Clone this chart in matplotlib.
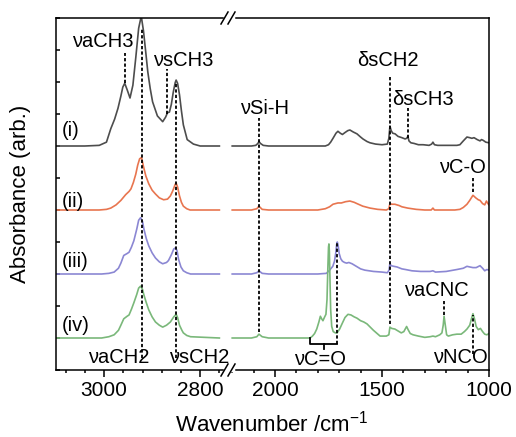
import matplotlib
matplotlib.use('Agg')
import matplotlib.pyplot as plt
from matplotlib.ticker import MultipleLocator, NullLocator
from matplotlib.lines import Line2D

plt.rcParams['font.family'] = ['Liberation Sans', 'DejaVu Sans']
plt.rcParams['mathtext.default'] = 'regular'

# C-H stretch region (3100-2750 cm-1), absorbance above each trace's baseline
hi_wn_i = [3100, 3040, 3010, 2995, 2986, 2978, 2971, 2965, 2961, 2957,
           2952, 2946, 2940, 2934, 2928, 2924, 2922, 2918, 2913, 2909,
           2904, 2899, 2889, 2878, 2872, 2868, 2864, 2860, 2856, 2852,
           2850, 2847, 2843, 2839, 2835, 2827, 2814, 2800, 2760]
hi_ab_i = [0, 0, 0.01, 0.06, 0.27, 0.42, 0.59, 0.78, 0.92, 0.98,
           0.88, 0.75, 0.95, 1.38, 1.84, 1.98, 2.0, 1.80, 1.45, 1.16,
           0.90, 0.69, 0.47, 0.38, 0.45, 0.52, 0.53, 0.65, 0.84, 0.99,
           1.03, 0.98, 0.80, 0.55, 0.33, 0.10, 0.03, 0.0, 0.0]

hi_wn_ii = [3100, 3010, 2995, 2986, 2975, 2965, 2955, 2948, 2944, 2939,
            2934, 2930, 2926, 2922, 2918, 2913, 2907, 2900, 2893, 2885,
            2876, 2868, 2862, 2857, 2852, 2850, 2847, 2843, 2839, 2835,
            2828, 2821, 2800, 2760]
hi_ab_ii = [0, 0, 0.01, 0.03, 0.08, 0.15, 0.24, 0.29, 0.33, 0.43,
            0.56, 0.70, 0.80, 0.82, 0.68, 0.53, 0.41, 0.31, 0.25, 0.19,
            0.16, 0.17, 0.22, 0.30, 0.40, 0.42, 0.36, 0.22, 0.12, 0.06,
            0.02, 0.0, 0.0, 0.0]

hi_wn_iii = [3100, 3005, 2990, 2979, 2970, 2965, 2959, 2952, 2948, 2943,
             2938, 2932, 2928, 2924, 2920, 2917, 2912, 2907, 2900, 2893,
             2885, 2878, 2870, 2866, 2860, 2855, 2851, 2848, 2845, 2840,
             2835, 2828, 2820, 2760]
hi_ab_iii = [0, 0, 0.01, 0.03, 0.09, 0.17, 0.29, 0.32, 0.34, 0.42,
             0.52, 0.70, 0.84, 0.88, 0.82, 0.70, 0.55, 0.44, 0.33, 0.25,
             0.19, 0.16, 0.18, 0.21, 0.30, 0.39, 0.41, 0.36, 0.23, 0.11,
             0.05, 0.02, 0.0, 0.0]

hi_wn_iv = [3100, 3005, 2990, 2979, 2970, 2965, 2959, 2952, 2948, 2943,
            2938, 2932, 2928, 2924, 2920, 2917, 2912, 2907, 2900, 2893,
            2885, 2878, 2870, 2862, 2855, 2850, 2847, 2843, 2838, 2835,
            2828, 2820, 2760]
hi_ab_iv = [0, 0, 0.02, 0.05, 0.12, 0.20, 0.30, 0.34, 0.36, 0.45,
            0.55, 0.68, 0.78, 0.81, 0.76, 0.67, 0.55, 0.44, 0.33, 0.25,
            0.20, 0.17, 0.20, 0.25, 0.33, 0.37, 0.32, 0.20, 0.12, 0.08,
            0.04, 0.02, 0.0]

# fingerprint region (2200-1000 cm-1)
lo_wn_i = [2200, 2110, 2090, 2080, 2075, 2068, 2055, 2030, 1800, 1765,
           1750, 1740, 1729, 1715, 1706, 1695, 1685, 1673, 1660, 1650,
           1635, 1617, 1600, 1589, 1570, 1556, 1530, 1500, 1475, 1468,
           1463, 1457, 1450, 1439, 1425, 1407, 1392, 1385, 1379, 1374,
           1365, 1350, 1330, 1308, 1280, 1268, 1262, 1255, 1240, 1200,
           1150, 1136, 1120, 1103, 1090, 1080, 1070, 1055, 1042, 1035,
           1028, 1015, 1000]
lo_ab_i = [0, 0, 0.01, 0.04, 0.07, 0.04, 0.01, 0, 0, 0,
           0.02, 0.06, 0.12, 0.20, 0.23, 0.20, 0.18, 0.21, 0.24, 0.25,
           0.22, 0.19, 0.14, 0.11, 0.07, 0.05, 0.03, 0.02, 0.03, 0.12,
           0.31, 0.24, 0.20, 0.19, 0.15, 0.13, 0.11, 0.12, 0.15, 0.08,
           0.05, 0.04, 0.02, 0.02, 0.01, 0.03, 0.06, 0.02, 0.01, 0.01,
           0.01, 0.02, 0.08, 0.14, 0.13, 0.12, 0.13, 0.10, 0.08, 0.10,
           0.09, 0.06, 0.05]

lo_wn_ii = [2200, 2110, 2085, 2075, 2060, 2030, 1800, 1765, 1745, 1729,
            1706, 1690, 1670, 1650, 1630, 1617, 1590, 1556, 1520, 1480,
            1468, 1463, 1455, 1440, 1420, 1407, 1380, 1340, 1300, 1270,
            1262, 1255, 1220, 1160, 1136, 1120, 1103, 1090, 1075, 1062,
            1050, 1042, 1030, 1020, 1012, 1005, 1000]
lo_ab_ii = [0, 0, 0.02, 0.06, 0.01, 0, 0, 0.02, 0.05, 0.09,
            0.11, 0.11, 0.13, 0.14, 0.12, 0.10, 0.06, 0.03, 0.01, 0.0,
            0.02, 0.10, 0.09, 0.09, 0.07, 0.05, 0.03, 0.01, 0.0, 0.0,
            0.03, 0.0, 0.0, 0.0, 0.01, 0.04, 0.09, 0.15, 0.23, 0.19,
            0.16, 0.15, 0.10, 0.08, 0.14, 0.10, 0.08]

lo_wn_iii = [2200, 2110, 2085, 2075, 2060, 2030, 1800, 1760, 1745, 1730,
             1722, 1716, 1712, 1709, 1705, 1700, 1693, 1685, 1675, 1665,
             1655, 1640, 1620, 1600, 1580, 1540, 1500, 1475, 1467, 1463,
             1458, 1445, 1430, 1407, 1390, 1360, 1320, 1275, 1262, 1250,
             1200, 1150, 1120, 1103, 1090, 1075, 1060, 1042, 1030, 1020,
             1010, 1000]
lo_ab_iii = [0, 0, 0.02, 0.05, 0.01, 0, 0, 0.01, 0.06, 0.12,
             0.20, 0.33, 0.46, 0.50, 0.45, 0.32, 0.24, 0.20, 0.18, 0.17,
             0.18, 0.16, 0.12, 0.08, 0.06, 0.04, 0.03, 0.02, 0.06, 0.17,
             0.13, 0.12, 0.11, 0.08, 0.07, 0.05, 0.04, 0.04, 0.05, 0.03,
             0.04, 0.07, 0.09, 0.12, 0.11, 0.10, 0.10, 0.13, 0.09, 0.05,
             0.07, 0.06]

lo_wn_iv = [2200, 2110, 2085, 2075, 2060, 2030, 1860, 1836, 1825, 1815,
            1805, 1795, 1788, 1782, 1776, 1768, 1762, 1757, 1753, 1750,
            1748, 1746, 1743, 1740, 1735, 1728, 1718, 1710, 1698, 1687,
            1673, 1659, 1645, 1630, 1617, 1600, 1585, 1570, 1540, 1509,
            1480, 1468, 1463, 1455, 1440, 1425, 1410, 1398, 1385, 1378,
            1368, 1355, 1330, 1300, 1275, 1262, 1250, 1230, 1220, 1214,
            1210, 1205, 1198, 1190, 1170, 1150, 1130, 1115, 1103, 1090,
            1082, 1075, 1068, 1060, 1050, 1040, 1030, 1020, 1010, 1000]
lo_ab_iv = [0, 0, 0.02, 0.06, 0.02, 0, 0, 0, 0.03, 0.07,
            0.14, 0.25, 0.34, 0.30, 0.27, 0.33, 0.37, 0.60, 1.10, 1.42,
            1.47, 1.35, 0.90, 0.45, 0.18, 0.10, 0.08, 0.08, 0.14, 0.22,
            0.32, 0.37, 0.36, 0.33, 0.31, 0.27, 0.25, 0.22, 0.12, 0.03,
            0.03, 0.05, 0.17, 0.15, 0.14, 0.11, 0.08, 0.10, 0.18, 0.13,
            0.07, 0.05, 0.03, 0.01, 0.02, 0.03, 0.02, 0.05, 0.08, 0.20,
            0.34, 0.22, 0.05, 0.03, 0.05, 0.06, 0.06, 0.10, 0.14, 0.20,
            0.30, 0.38, 0.30, 0.18, 0.13, 0.15, 0.10, 0.06, 0.05, 0.07]

trace_names = ['(i)', '(ii)', '(iii)', '(iv)']
band_names = ['νaCH3', 'νaCH2', 'νsCH3', 'νsCH2', 'νSi-H', 'δsCH2',
              'δsCH3', 'νC-O', 'νC=O', 'νaCNC', 'νNCO']
band_wn = [2957, 2922, 2870, 2850, 2075, 1463, 1379, 1075, 1710, 1210, 1075]

colors = ['#4d4d4d', '#e8754f', '#8b87d3', '#7ab87a']
offsets = [3, 2, 1, 0]

hi = [(hi_wn_i, hi_ab_i), (hi_wn_ii, hi_ab_ii), (hi_wn_iii, hi_ab_iii), (hi_wn_iv, hi_ab_iv)]
lo = [(lo_wn_i, lo_ab_i), (lo_wn_ii, lo_ab_ii), (lo_wn_iii, lo_ab_iii), (lo_wn_iv, lo_ab_iv)]

W, H = 516, 437
fig = plt.figure(figsize=(W / 100, H / 100), dpi=100)
ax1 = fig.add_axes([56 / W, 67 / H, 173 / W, 352 / H])
ax2 = fig.add_axes([229 / W, 67 / H, 260 / W, 352 / H])

for k in range(4):
    ax1.plot(hi[k][0], [a + offsets[k] for a in hi[k][1]], color=colors[k], lw=1.2)
    ax2.plot(lo[k][0], [a + offsets[k] for a in lo[k][1]], color=colors[k], lw=1.2)
    ax1.text(3088, offsets[k] + [0.25, 0.14, 0.19, 0.2][k], trace_names[k],
             fontsize=14.5, ha='left', va='center')

ax1.set_xlim(3100, 2740)
ax2.set_xlim(2215, 1000)
for ax in (ax1, ax2):
    ax.set_ylim(-0.5, 5.0)
    for s in ax.spines.values():
        s.set_linewidth(1.1)
    ax.tick_params(axis='x', which='major', direction='out', length=5, width=1.1,
                   labelsize=15, pad=3)
    ax.tick_params(axis='x', which='minor', direction='out', length=2.5, width=1.1)
    ax.tick_params(top=False, right=False)

ax1.spines['right'].set_visible(False)
ax2.spines['left'].set_visible(False)
ax1.xaxis.set_major_locator(MultipleLocator(200))
ax1.xaxis.set_minor_locator(MultipleLocator(40))
ax2.xaxis.set_major_locator(MultipleLocator(500))
ax2.xaxis.set_minor_locator(MultipleLocator(100))
ax1.yaxis.set_major_locator(MultipleLocator(0.5))
ax1.tick_params(axis='y', direction='in', length=3, width=1.1, labelleft=False)
ax2.yaxis.set_major_locator(NullLocator())

# dashed band markers: (y bottom, y top), label centre (wavenumber, y)
spans = [(3.98, 4.45), (-0.32, 4.85), (3.5, 4.2), (-0.32, 4.0), (0.1, 3.44),
         (0.22, 4.1), (3.12, 3.6), (2.28, 2.5), (-0.09, 1.5), (0.36, 0.58),
         (-0.25, 0.36)]
label_pos = [(3002, 4.63), (2969, -0.31), (2835, 4.33), (2802, -0.31),
             (2047, 3.59), (1472, 4.33), (1308, 3.73), (1126, 2.66),
             (1790, -0.33), (1247, 0.75), (1135, -0.31)]
dash = (0, (1.8, 1.2))
for name, wn, (y0, y1), (tx, ty) in zip(band_names, band_wn, spans, label_pos):
    ax = ax1 if wn > 2500 else ax2
    ax.plot([wn, wn], [y0, y1], color='black', lw=1.3, linestyle=dash, zorder=3)
    tax = ax1 if tx > 2500 else ax2
    tax.text(tx, ty, name, fontsize=14.5, ha='center', va='center', zorder=4,
             clip_on=False)

# bracket under the C=O band
ax2.plot([1836, 1836, 1710], [0.0, -0.09, -0.09], color='black', lw=1.3)
ax2.plot([1771, 1771], [-0.09, -0.17], color='black', lw=1.3)

# axis break marks
def fig_line(x0, y0, x1, y1, **kw):
    fig.add_artist(Line2D([x0 / W, x1 / W], [1 - y0 / H, 1 - y1 / H], **kw))

for yc in (18, 370):
    fig_line(224.5, yc, 232.5, yc, color='white', lw=2.5, zorder=10)
    fig_line(221, yc + 6, 228, yc - 6, color='black', lw=1.1, zorder=11)
    fig_line(228, yc + 6, 235, yc - 6, color='black', lw=1.1, zorder=11)

fig.text(272 / W, 1 - 424 / H, 'Wavenumber /cm$^{-1}$', ha='center', va='center',
         fontsize=16)
fig.text(21 / W, 1 - 194 / H, 'Absorbance (arb.)', rotation=90, ha='center',
         va='center', fontsize=16)

fig.savefig('out.png', dpi=100)
